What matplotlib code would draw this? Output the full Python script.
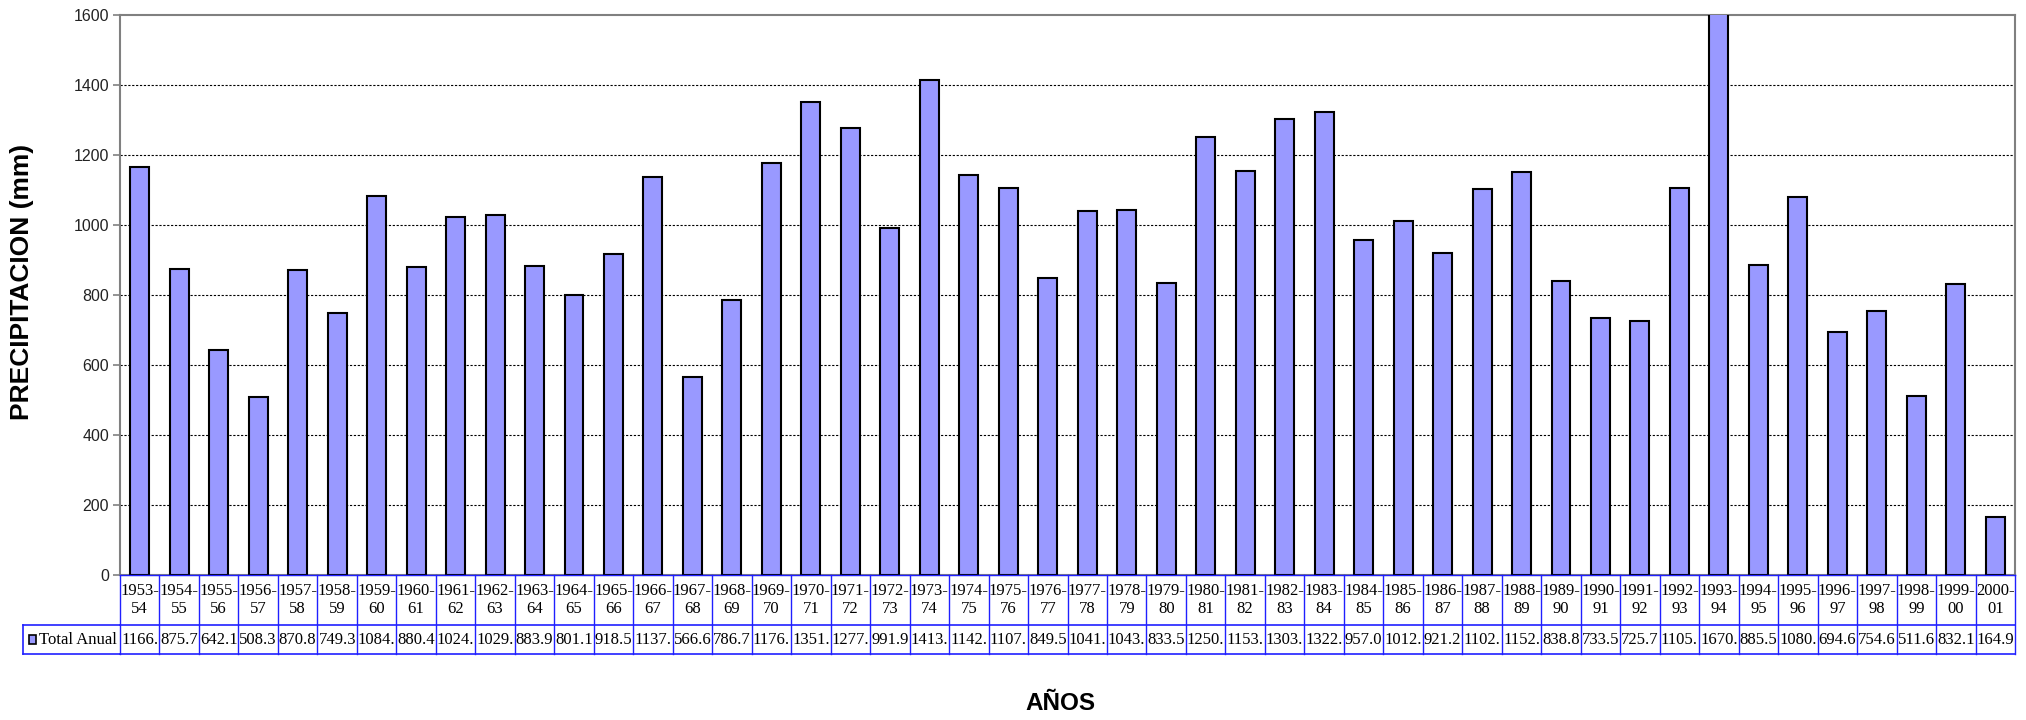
import matplotlib
matplotlib.use("Agg")
import matplotlib.pyplot as plt
import matplotlib.transforms as mtransforms
from matplotlib.patches import Rectangle
import numpy as np

# season start years 1953 .. 2000
start_years = list(range(1953, 2001))
seasons = [f"{y}-\n{(y + 1) % 100:02d}" for y in start_years]

total_anual = [1166.0, 875.7, 642.1, 508.3, 870.8, 749.3, 1084.0, 880.4, 1024.0, 1029.0,
               883.9, 801.1, 918.5, 1137.0, 566.6, 786.7, 1176.0, 1351.0, 1277.0, 991.9,
               1413.0, 1142.0, 1107.0, 849.5, 1041.0, 1043.0, 833.5, 1250.0, 1153.0, 1303.0,
               1322.0, 957.0, 1012.0, 921.2, 1102.0, 1152.0, 838.8, 733.5, 725.7, 1105.0,
               1670.0, 885.5, 1080.0, 694.6, 754.6, 511.6, 832.1, 164.9]
# the data table cells only show 5 characters
table_text = [f"{v:.1f}"[:5] for v in total_anual]

series_name = "Total Anual"
yticks = [0, 200, 400, 600, 800, 1000, 1200, 1400, 1600]

W, H = 2026, 720
fig = plt.figure(figsize=(W / 100, H / 100), dpi=100)
fig.patch.set_facecolor("white")

bar_color = "#9999FF"
grey = "#808080"
tblue = "#2020FF"
tfont = 12

# main plot area (pixel box -> figure fraction)
px_l, px_r, px_t, px_b = 120, 2015, 15, 575
ax = fig.add_axes([px_l / W, 1 - px_b / H, (px_r - px_l) / W, (px_b - px_t) / H])
x = np.arange(len(total_anual))
ax.bar(x, total_anual, width=0.48, color=bar_color, edgecolor="black", linewidth=1.5, zorder=3)
ax.set_xlim(-0.5, len(x) - 0.5)
ax.set_ylim(0, 1600)
ax.set_yticks(yticks)
ax.set_yticklabels([str(t) for t in yticks], fontsize=11.5, family="Liberation Sans", color="#222222")
ax.set_xticks([])
for t in yticks[1:-1]:
    ax.axhline(t, color="black", linestyle=(0, (2, 1.5)), linewidth=0.8, zorder=1)
for s in ax.spines.values():
    s.set_color(grey)
    s.set_linewidth(1.5)
ax.tick_params(axis="y", length=5, width=1.2, color=grey, pad=3)

# data table under the plot
tb_t, tb_m, tb_b = 575, 625, 654
ax_t = fig.add_axes([px_l / W, 1 - tb_b / H, (px_r - px_l) / W, (tb_b - tb_t) / H])
ax_t.set_xlim(-0.5, len(x) - 0.5)
ax_t.set_ylim(0, tb_b - tb_t)
ax_t.axis("off")
ymid = tb_b - tb_m
ytop = tb_b - tb_t
for i in range(len(x) + 1):
    ax_t.plot([i - 0.5, i - 0.5], [0, ytop], color=tblue, linewidth=1, clip_on=False)
ax_t.plot([-0.5, len(x) - 0.5], [ytop, ytop], color=tblue, linewidth=1, clip_on=False)
ax_t.plot([-0.5, len(x) - 0.5], [ymid, ymid], color=tblue, linewidth=1.2, clip_on=False)
ax_t.plot([-0.5, len(x) - 0.5], [0, 0], color=tblue, linewidth=1.2, clip_on=False)
for i in x:
    ax_t.text(i, (ymid + ytop) / 2, seasons[i], ha="center", va="center", fontsize=tfont,
              family="Liberation Serif", linespacing=1.2)
    ax_t.text(i, ymid / 2, table_text[i], ha="center", va="center", fontsize=tfont,
              family="Liberation Serif")

# row label cell extends left of the plot area
tr = mtransforms.blended_transform_factory(fig.transFigure, ax_t.transData)
lab_l = 23 / W
ax_t.plot([lab_l, px_l / W], [ymid, ymid], color=tblue, linewidth=1.2, transform=tr, clip_on=False)
ax_t.plot([lab_l, px_l / W], [0, 0], color=tblue, linewidth=1.2, transform=tr, clip_on=False)
ax_t.plot([lab_l, lab_l], [0, ymid], color=tblue, linewidth=1.2, transform=tr, clip_on=False)
ax_t.add_patch(Rectangle((29 / W, ymid / 2 - 4.5), 7 / W, 9, transform=tr, facecolor=bar_color,
                         edgecolor="black", linewidth=1.2, clip_on=False))
ax_t.text(39 / W, ymid / 2, series_name, transform=tr, ha="left", va="center", fontsize=tfont,
          family="Liberation Serif")

fig.text(22 / W, 1 - 282 / H, "PRECIPITACION (mm)", rotation=90, ha="center", va="center",
         fontsize=19, fontweight="bold", family="Liberation Sans")
fig.text(1060 / W, 1 - 703 / H, "AÑOS", ha="center", va="center", fontsize=17.5,
         fontweight="bold", family="Liberation Sans")

fig.savefig("out.png", dpi=100)
